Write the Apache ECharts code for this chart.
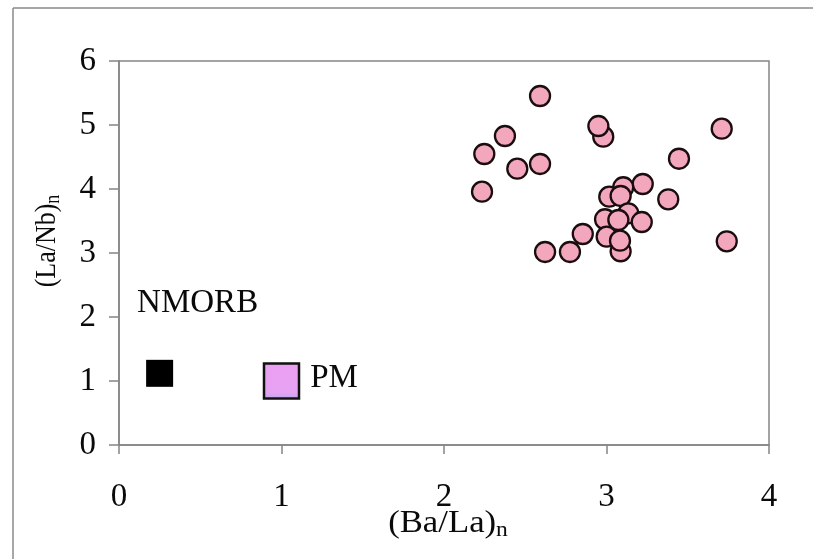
<!DOCTYPE html>
<html>
<head>
<meta charset="utf-8">
<script src="https://cdn.jsdelivr.net/npm/echarts@6/dist/echarts.min.js"></script>
<style>
  html, body { margin: 0; padding: 0; background: #fff; }
  #chart { width: 813px; height: 559px; }
</style>
</head>
<body>
<div id="chart"></div>
<script>
// Sample compositions: (Ba/La)n against (La/Nb)n
const baLa = [2.375, 2.248, 2.451, 2.591, 2.591, 2.234, 2.980, 2.950, 3.709, 3.446,
              3.223, 3.103, 3.017, 3.087, 3.380, 3.134, 3.217, 2.991, 3.073, 2.854,
              3.001, 3.087, 3.083, 2.622, 2.775, 3.740];
const laNb = [4.828, 4.547, 4.317, 4.391, 5.453, 3.958, 4.817, 4.984, 4.942, 4.473,
              4.078, 4.027, 3.880, 3.891, 3.839, 3.620, 3.484, 3.527, 3.516, 3.297,
              3.255, 3.027, 3.192, 3.016, 3.016, 3.183];

// Reference reservoirs
const nmorb = [0.25, 1.12];
const pm = [1.0, 1.0];

// Axis ticks
const xTicks = [0, 1, 2, 3, 4];
const yTicks = [0, 1, 2, 3, 4, 5, 6];

const FONT = 'Liberation Serif';
const INK = '#0a0a0a';
const FRAME = '#8a8a8a';
const AXIS = '#858585';

// rich-text styles for the subscripted axis titles
const titleRich = (main, sub, drop) => ({
  m: { fontFamily: FONT, fontSize: main, fill: INK },
  s: { fontFamily: FONT, fontSize: sub, fill: INK, padding: [drop, 0, 0, 0] }
});

const chart = echarts.init(document.getElementById('chart'));

chart.setOption({
  animation: false,
  backgroundColor: '#ffffff',
  graphic: [
    // outer figure frame (left and top edges)
    { type: 'line', shape: { x1: 13, y1: 8, x2: 813, y2: 8 },
      style: { stroke: FRAME, lineWidth: 1.5 }, silent: true },
    { type: 'line', shape: { x1: 13, y1: 8, x2: 13, y2: 559 },
      style: { stroke: FRAME, lineWidth: 1.5 }, silent: true },
    // x-axis title
    {
      type: 'text', x: 448, y: 524, scaleX: 1.12, silent: true,
      style: {
        text: '{m|(Ba/La)}{s|n}', align: 'center', verticalAlign: 'middle',
        rich: titleRich(31, 21, 13)
      }
    },
    // y-axis title
    {
      type: 'text', x: 47, y: 241, rotation: Math.PI / 2, scaleY: 1.15, silent: true,
      style: {
        text: '{m|(La/Nb)}{s|n}', align: 'center', verticalAlign: 'middle',
        rich: titleRich(26, 18, 11)
      }
    }
  ],
  grid: {
    left: 119, top: 61, right: 44, bottom: 114,
    show: true, borderColor: AXIS, borderWidth: 1.5, backgroundColor: 'transparent'
  },
  xAxis: {
    type: 'value',
    min: xTicks[0], max: xTicks[xTicks.length - 1], interval: 1,
    axisLine: { show: true, lineStyle: { color: AXIS, width: 1.5 } },
    axisTick: { show: true, inside: false, length: 9, lineStyle: { color: AXIS, width: 1.5 } },
    axisLabel: { fontFamily: FONT, fontSize: 33, color: INK, margin: 36 },
    splitLine: { show: false }
  },
  yAxis: {
    type: 'value',
    min: yTicks[0], max: yTicks[yTicks.length - 1], interval: 1,
    axisLine: { show: true, lineStyle: { color: AXIS, width: 1.5 } },
    axisTick: { show: true, inside: false, length: 10, lineStyle: { color: AXIS, width: 1.5 } },
    axisLabel: { fontFamily: FONT, fontSize: 33, color: INK, margin: 23 },
    splitLine: { show: false }
  },
  series: [
    {
      name: 'samples',
      type: 'scatter',
      symbol: 'circle',
      symbolSize: 20,
      itemStyle: { color: '#f2a7bd', borderColor: '#1a0d0f', borderWidth: 2.3, opacity: 1 },
      data: baLa.map((x, i) => [x, laNb[i]]),
      z: 3
    },
    {
      name: 'NMORB',
      type: 'scatter',
      symbol: 'rect',
      symbolSize: 27,
      itemStyle: { color: '#000000', borderColor: '#000000', borderWidth: 0, opacity: 1 },
      label: {
        show: true, position: 'top', distance: 40, offset: [38, 0],
        formatter: 'NMORB', fontFamily: FONT, fontSize: 33, color: INK
      },
      data: [nmorb],
      z: 3
    },
    {
      name: 'PM',
      type: 'scatter',
      symbol: 'rect',
      symbolSize: 35,
      itemStyle: {
        color: new echarts.graphic.LinearGradient(0, 0, 0, 1, [
          { offset: 0, color: '#ec9ff2' },
          { offset: 0.8, color: '#e6a2f3' },
          { offset: 1, color: '#b9a8f0' }
        ]),
        borderColor: '#111', borderWidth: 2.5, opacity: 1
      },
      label: {
        show: true, position: 'right', distance: 10, offset: [0, -3],
        formatter: 'PM', fontFamily: FONT, fontSize: 33, color: INK
      },
      data: [pm],
      z: 3
    }
  ]
});
</script>
</body>
</html>
